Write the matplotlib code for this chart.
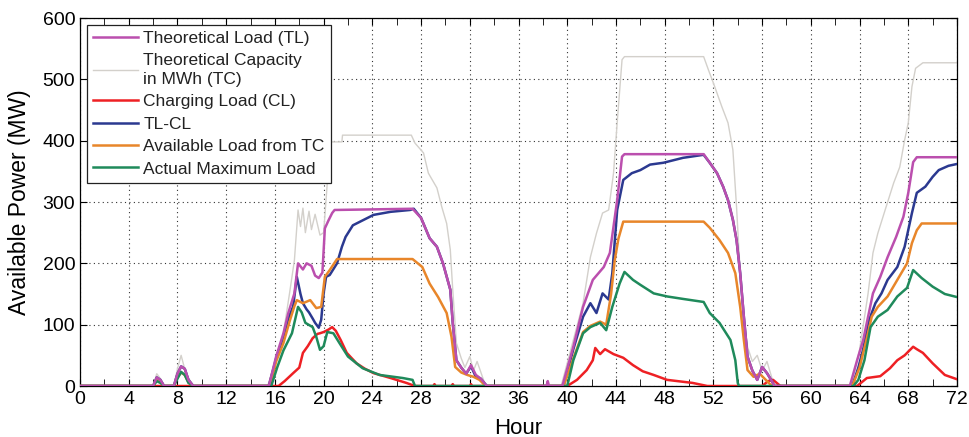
import matplotlib
matplotlib.use('Agg')
import matplotlib.pyplot as plt
from matplotlib.ticker import MultipleLocator

plt.rcParams['font.family'] = ['Liberation Sans', 'DejaVu Sans']

# Theoretical Load (TL)
tl_hours = [0, 6.0, 6.3, 6.6, 6.9, 7.7, 8.0, 8.3, 8.6, 8.9, 9.3,
            15.5, 16.1, 16.7, 17.1, 17.6, 17.9, 18.3, 18.6, 19.0, 19.3, 19.6, 19.9,
            20.1, 20.4, 20.7, 20.9, 27.3, 28.0, 28.7, 29.3, 29.8, 30.4, 30.6, 30.9,
            31.3, 31.7, 32.1, 32.5, 32.9, 33.4, 38.3, 38.4, 38.5,
            39.6, 40.5, 41.3, 42.1, 43.0, 43.5, 44.1, 44.5, 44.7, 51.2, 51.7, 52.3,
            52.8, 53.2, 53.6, 53.9, 54.2, 54.5, 54.8, 55.2, 55.6, 56.0, 56.4, 56.8, 57.0,
            63.2, 63.8, 64.3, 64.7, 65.1, 65.7, 66.3, 67.0, 67.6, 68.0, 68.4, 68.7, 72]
tl_values = [0, 0, 14, 10, 0, 0, 20, 32, 28, 10, 0,
             0, 48, 86, 119, 151, 200, 190, 200, 196, 180, 176, 185,
             257, 270, 282, 287, 289, 274, 241, 227, 200, 157, 103, 42,
             30, 20, 34, 18, 12, 0, 0, 8, 0,
             0, 64, 129, 173, 194, 217, 303, 374, 378, 378, 364, 347,
             325, 303, 271, 238, 184, 113, 48, 25, 10, 31, 21, 8, 0,
             0, 42, 75, 113, 151, 178, 210, 243, 276, 315, 365, 373, 373]

# Theoretical Capacity in MWh (TC)
tc_hours = [0, 6.0, 6.3, 6.6, 6.9, 7.7, 8.0, 8.3, 8.5, 8.7, 9.3,
            15.4, 15.9, 16.3, 16.7, 17.2, 17.6, 17.9, 18.1, 18.3, 18.5, 18.8, 19.0,
            19.3, 19.7, 20.0, 20.3, 20.6, 21.5, 21.55, 27.2, 27.5, 28.2, 28.6, 29.3,
            29.7, 30.1, 30.4, 30.6, 30.9, 31.3, 31.6, 32.0, 32.3, 32.6, 33.3,
            39.5, 39.7, 40.5, 41.3, 41.9, 42.4, 42.9, 43.4, 43.8, 44.1, 44.5, 44.7,
            51.2, 51.6, 52.0, 52.7, 53.2, 53.6, 53.9, 54.2, 54.5, 54.8, 55.2, 55.6,
            56.0, 56.4, 57.0, 63.3, 64.0, 64.7, 65.1, 65.5, 66.1, 66.8, 67.3, 67.7,
            68.0, 68.3, 68.6, 69.2, 72]
tc_values = [0, 0, 20, 12, 0, 0, 28, 50, 35, 20, 0,
             0, 30, 58, 86, 151, 205, 287, 260, 290, 250, 285, 255,
             280, 246, 250, 331, 398, 398, 409, 409, 396, 380, 347, 323,
             292, 265, 222, 157, 70, 45, 30, 48, 25, 40, 0,
             0, 15, 75, 135, 210, 249, 282, 287, 347, 429, 532, 537,
             537, 515, 494, 455, 429, 385, 292, 184, 103, 64, 40, 50,
             25, 40, 0, 0, 59, 151, 217, 249, 287, 331, 357, 401,
             429, 488, 518, 527, 527]

# Charging Load (CL)
cl_hours = [0, 16.3, 16.8, 17.5, 18.0, 18.3, 18.7, 19.1, 19.5, 19.7, 20.0, 20.4,
            20.7, 21.0, 21.4, 21.9, 22.7, 23.4, 24.1, 25.5, 26.8, 27.5,
            29.0, 29.1, 29.2, 30.5, 30.6, 30.7, 32.0, 32.1, 32.2,
            40.0, 40.8, 41.6, 42.1, 42.3, 42.7, 43.1, 43.8, 44.6, 45.4, 46.2, 47.1,
            48.2, 50.3, 51.5, 56.0, 56.5, 56.9, 57.5,
            63.8, 64.6, 65.7, 66.5, 67.1, 67.7, 68.4, 68.7, 69.2, 70.0, 71.0, 72]
cl_values = [0, 0, 8, 21, 30, 54, 65, 78, 85, 86, 88, 92,
             96, 90, 75, 54, 37, 28, 21, 13, 5, 0,
             0, 3, 0, 0, 3, 0, 0, 3, 0,
             0, 10, 26, 42, 62, 52, 60, 52, 46, 34, 24, 18,
             10, 5, 0, 0, 8, 10, 0,
             0, 13, 16, 29, 42, 50, 64, 60, 54, 37, 18, 11]

# TL-CL
net_hours = [0, 6.0, 6.3, 6.6, 6.9, 7.7, 8.0, 8.3, 8.6, 8.9, 9.3,
             15.5, 16.1, 16.7, 17.1, 17.5, 17.8, 18.1, 18.3, 18.6, 18.8, 19.1, 19.3,
             19.6, 19.8, 20.0, 20.2, 20.5, 21.1, 21.5, 21.8, 22.4, 23.3, 24.1, 25.5,
             27.1, 27.4, 28.0, 28.7, 29.3, 29.8, 30.4, 30.6, 30.9, 31.3, 31.7, 32.1,
             32.5, 32.9, 33.4, 39.7, 40.5, 41.3, 41.9, 42.4, 42.9, 43.4, 43.7, 44.1,
             44.6, 45.3, 46.0, 46.8, 47.9, 49.5, 51.2, 51.7, 52.3, 52.8, 53.2, 53.6,
             53.9, 54.2, 54.5, 54.8, 55.2, 55.6, 56.0, 56.4, 56.8, 57.0,
             63.4, 63.9, 64.3, 64.7, 65.3, 65.8, 66.3, 67.1, 67.7, 68.3, 68.7, 69.4,
             70.0, 70.5, 71.3, 72]
net_values = [0, 0, 14, 10, 0, 0, 20, 32, 28, 10, 0,
              0, 45, 80, 110, 130, 178, 150, 135, 125, 120, 110, 103,
              95, 108, 151, 178, 181, 200, 227, 243, 262, 271, 279, 284,
              287, 289, 274, 241, 227, 200, 157, 103, 42, 30, 20, 32,
              15, 12, 0, 0, 60, 113, 135, 119, 151, 141, 184, 287,
              336, 347, 352, 361, 364, 372, 377, 364, 347, 325, 303, 271,
              238, 184, 113, 48, 25, 10, 31, 21, 8, 0,
              0, 30, 60, 103, 135, 151, 173, 194, 227, 282, 315, 325,
              341, 352, 359, 362]

# Available Load from TC
avail_hours = [0, 6.0, 6.3, 6.6, 6.9, 7.7, 8.0, 8.3, 8.6, 8.9, 9.3,
               15.6, 16.1, 16.7, 17.2, 17.6, 17.8, 18.3, 18.9, 19.4, 19.8, 20.1, 20.5,
               21.1, 27.3, 28.1, 28.7, 29.4, 30.1, 30.5, 30.8, 31.3, 31.8, 32.3, 32.8,
               33.3, 39.7, 40.5, 41.3, 41.9, 42.7, 43.2, 43.6, 43.9, 44.2, 44.6,
               51.2, 51.7, 52.5, 53.2, 53.8, 54.2, 54.5, 54.8, 55.3, 55.8, 56.3, 56.8,
               63.4, 64.0, 64.5, 65.0, 65.5, 66.3, 67.1, 67.9, 68.3, 68.7, 69.1, 72]
avail_values = [0, 0, 10, 6, 0, 0, 14, 22, 18, 6, 0,
                0, 40, 70, 105, 130, 140, 135, 140, 127, 129, 178, 189,
                207, 207, 194, 167, 145, 119, 80, 31, 22, 18, 15, 10,
                0, 0, 45, 88, 98, 105, 100, 150, 205, 240, 268,
                268, 258, 238, 217, 184, 129, 75, 26, 15, 20, 10, 0,
                0, 30, 70, 113, 129, 146, 173, 200, 233, 254, 265, 265]

# Actual Maximum Load
actual_hours = [0, 6.0, 6.3, 6.6, 6.9, 7.7, 8.0, 8.3, 8.6, 8.9, 9.3,
                15.7, 16.2, 16.7, 17.4, 17.9, 18.2, 18.5, 19.1, 19.4, 19.7, 20.0,
                20.3, 20.8, 21.3, 22.0, 23.2, 24.6, 26.5, 27.3, 27.5,
                40.0, 40.5, 41.3, 41.9, 42.7, 43.2, 43.7, 44.3, 44.7, 45.4, 46.0,
                47.1, 48.2, 49.5, 51.2, 51.7, 52.5, 53.4, 53.8, 54.0, 54.1,
                63.5, 63.9, 64.4, 64.9, 65.5, 66.3, 67.1, 67.9, 68.4, 69.1, 70.0, 71.0, 72]
actual_values = [0, 0, 8, 5, 0, 0, 12, 23, 18, 5, 0,
                 0, 31, 58, 86, 129, 120, 103, 96, 80, 59, 65,
                 88, 86, 70, 48, 29, 18, 13, 10, 0,
                 0, 42, 86, 96, 103, 91, 129, 167, 186, 173, 165,
                 151, 146, 142, 137, 119, 103, 75, 42, 5, 0,
                 0, 10, 42, 96, 113, 124, 146, 160, 189, 176, 162, 150, 145]

hour_ticks = list(range(0, 73, 4))
power_ticks = list(range(0, 601, 100))

fig = plt.figure(figsize=(9.7, 4.37), dpi=100)
ax = fig.add_axes([0.0825, 0.1167, 0.9041, 0.8421])

lw = 1.8
l_tc, = ax.plot(tc_hours, tc_values, color='#d3d0cb', lw=1.0, zorder=2)
l_cl, = ax.plot(cl_hours, cl_values, color='#ee2024', lw=lw, zorder=3)
l_net, = ax.plot(net_hours, net_values, color='#2b3990', lw=lw, zorder=4)
l_av, = ax.plot(avail_hours, avail_values, color='#e8862a', lw=lw, zorder=5)
l_act, = ax.plot(actual_hours, actual_values, color='#1f8a5b', lw=lw, zorder=6)
l_tl, = ax.plot(tl_hours, tl_values, color='#bb4fae', lw=lw, zorder=7)

ax.set_xlim(0, 72)
ax.set_ylim(0, 600)
ax.set_xticks(hour_ticks)
ax.set_yticks(power_ticks)
ax.xaxis.set_minor_locator(MultipleLocator(2))
ax.tick_params(which='both', direction='in', top=True, right=True, labelsize=14)
ax.tick_params(which='major', length=5)
ax.tick_params(which='minor', length=5)
ax.grid(True, which='major', linestyle=(0, (1, 3)), color='#333333', linewidth=0.8)
for s in ax.spines.values():
    s.set_linewidth(0.9)

ax.set_xlabel('Hour', fontsize=16, labelpad=7)
ax.set_ylabel('Available Power (MW)', fontsize=16.5, labelpad=8)

leg = ax.legend([l_tl, l_tc, l_cl, l_net, l_av, l_act],
                ['Theoretical Load (TL)', 'Theoretical Capacity\nin MWh (TC)',
                 'Charging Load (CL)', 'TL-CL', 'Available Load from TC',
                 'Actual Maximum Load'],
                loc='upper left', bbox_to_anchor=(0.008, 0.982), fontsize=12.5,
                fancybox=False, framealpha=1, edgecolor='#222222',
                handlelength=2.6, handletextpad=0.3, labelspacing=0.42,
                borderpad=0.35, borderaxespad=0)
for t in leg.get_texts():
    t.set_linespacing(1.3)
    t.set_color('#222222')
leg.get_frame().set_linewidth(0.9)
leg.set_zorder(10)

fig.savefig('out.png', dpi=100)
